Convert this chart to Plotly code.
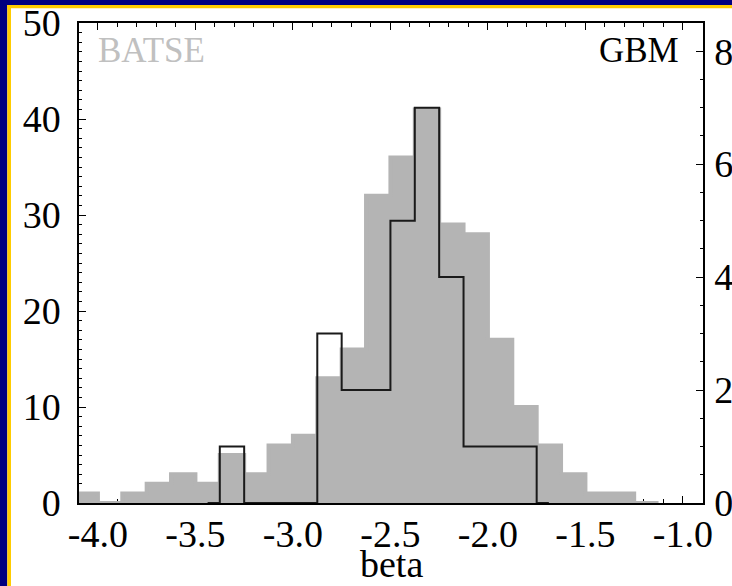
import plotly.graph_objects as go

# ---- data ----
bin_width = 0.125
batse_centers = [-4.0625, -3.9375, -3.8125, -3.6875, -3.5625, -3.4375, -3.3125, -3.1875,
                 -3.0625, -2.9375, -2.8125, -2.6875, -2.5625, -2.4375, -2.3125, -2.1875,
                 -2.0625, -1.9375, -1.8125, -1.6875, -1.5625, -1.4375, -1.3125, -1.1875]
batse_counts = [1, 0, 1, 2, 3, 2, 5, 3, 6, 7, 13, 16, 32, 36, 41, 29, 28, 17, 10, 6, 3, 1, 1, 0]

gbm_centers = [-3.4375, -3.3125, -3.1875, -3.0625, -2.9375, -2.8125, -2.6875, -2.5625,
               -2.4375, -2.3125, -2.1875, -2.0625, -1.9375, -1.8125, -1.6875]
gbm_counts = [0, 1, 0, 0, 0, 3, 2, 2, 5, 7, 4, 1, 1, 1, 0]

x_tickvals = [-4.0, -3.5, -3.0, -2.5, -2.0, -1.5, -1.0]
x_ticktext = ["-4.0", "-3.5", "-3.0", "-2.5", "-2.0", "-1.5", "-1.0"]
y_left_ticks = [0, 10, 20, 30, 40, 50]
y_right_ticks = [0, 2, 4, 6, 8]

# step outline for BATSE from bin edges
batse_edges = [c - bin_width / 2 for c in batse_centers] + [batse_centers[-1] + bin_width / 2]
batse_steps = batse_counts + [batse_counts[-1]]

W, H = 732, 586
L, R, T, B = 79, 29, 23, 83
PW, PH = W - L - R, H - T - B

def px(x):
    return (x - L) / PW

def py(y):
    return 1 - (y - T) / PH

FONT = "Liberation Serif"
GRAY = "#b4b4b4"

fig = go.Figure()
fig.add_trace(go.Scatter(
    x=batse_edges, y=batse_steps, mode="lines", line=dict(shape="hv", color=GRAY, width=4),
    fill="tozeroy", fillcolor=GRAY, showlegend=False, hoverinfo="skip"))
fig.add_trace(go.Scatter(
    x=gbm_centers, y=gbm_counts, mode="lines", yaxis="y2",
    line=dict(shape="hvh", color="#1a1a1a", width=2), showlegend=False))

axis_common = dict(showline=True, linecolor="black", linewidth=1.5, ticks="inside",
                   tickcolor="black", tickwidth=1.2, ticklen=7, showgrid=False, zeroline=False,
                   automargin=False, layer="below traces",
                   tickfont=dict(family=FONT, size=38, color="black"))

fig.update_layout(
    width=W, height=H,
    margin=dict(l=L, r=R, t=T, b=B, pad=0),
    paper_bgcolor="white", plot_bgcolor="white",
    xaxis=dict(range=[-4.097, -0.897], tickvals=x_tickvals, ticktext=x_ticktext, mirror="ticks",
               minor=dict(dtick=0.1, tick0=0, ticks="inside", ticklen=4, tickcolor="black", tickwidth=1),
               ticklabelstandoff=-3, **axis_common),
    yaxis=dict(range=[0, 50], tickvals=y_left_ticks,
               minor=dict(dtick=1, tick0=0, ticks="inside", ticklen=3.5, tickcolor="black", tickwidth=1),
               ticklabelstandoff=9, **axis_common),
    yaxis2=dict(range=[0, 8.5], tickvals=y_right_ticks, overlaying="y", side="right",
                minor=dict(dtick=0.5, tick0=0, ticks="inside", ticklen=3.5, tickcolor="black", tickwidth=1),
                ticklabelstandoff=2, **axis_common),
    annotations=[
        dict(text="BATSE", x=px(96), y=py(50), xref="paper", yref="paper", xanchor="left",
             yanchor="middle", showarrow=False, font=dict(family=FONT, size=35, color="#c0c0c0")),
        dict(text="GBM", x=px(681), y=py(50), xref="paper", yref="paper", xanchor="right",
             yanchor="middle", showarrow=False, font=dict(family=FONT, size=35, color="black")),
        dict(text="beta", x=px(391), y=py(586), xref="paper", yref="paper", xanchor="center",
             yanchor="bottom", showarrow=False, borderpad=0,
             font=dict(family=FONT, size=38, color="black")),
    ],
    shapes=[
        dict(type="rect", xref="paper", yref="paper", x0=px(0), x1=px(W), y0=py(0), y1=py(5),
             fillcolor="#000080", line_width=0, layer="below"),
        dict(type="rect", xref="paper", yref="paper", x0=px(0), x1=px(7.3), y0=py(0), y1=py(H),
             fillcolor="#000080", line_width=0, layer="below"),
        dict(type="rect", xref="paper", yref="paper", x0=px(7.3), x1=px(W), y0=py(5), y1=py(8.3),
             fillcolor="#ffcc00", line_width=0, layer="below"),
        dict(type="rect", xref="paper", yref="paper", x0=px(7.3), x1=px(11), y0=py(5), y1=py(H),
             fillcolor="#ffcc00", line_width=0, layer="below"),
    ],
)

fig.write_html("out.html")
